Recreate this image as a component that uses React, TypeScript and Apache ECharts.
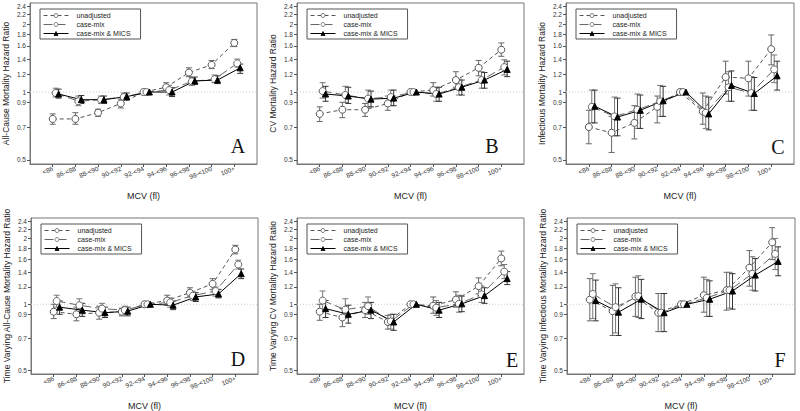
import React, { useEffect, useRef } from "react";
import * as echarts from "echarts";

const categories = ["<86", "86-<88", "88-<90", "90-<92", "92-<94", "94-<96", "96-<98", "98-<100", "100+"];
const yTicks = [0.5, 0.7, 0.9, 1, 1.2, 1.4, 1.6, 1.8, 2, 2.2, 2.4];
const seriesNames = ["unadjusted", "case-mix", "case-mix & MICS"];
const panelLetters = ["A", "B", "C", "D", "E", "F"];
const yTitles = [
  "All-Cause Mortality Hazard Ratio",
  "CV Mortality Hazard Ratio",
  "Infectious Mortality Hazard Ratio",
  "Time Varying All-Cause Mortality Hazard Ratio",
  "Time Varying CV Mortality Hazard Ratio",
  "Time Varying Infectious Mortality Hazard Ratio",
];

// [estimate, lower CI, upper CI]
const A_unadjusted = [[0.76, 0.72, 0.8], [0.76, 0.72, 0.81], [0.81, 0.78, 0.84], [0.89, 0.85, 0.93], [1, null, null], [1.05, 1.02, 1.1], [1.22, 1.17, 1.28], [1.32, 1.27, 1.38], [1.65, 1.59, 1.71]];
const A_casemix = [[0.99, 0.95, 1.04], [0.91, 0.87, 0.96], [0.925, 0.89, 0.96], [0.95, 0.92, 0.99], [1, null, null], [1.02, 0.97, 1.07], [1.115, 1.07, 1.16], [1.14, 1.1, 1.19], [1.34, 1.29, 1.4]];
const A_mics = [[0.98, 0.94, 1.03], [0.925, 0.89, 0.965], [0.925, 0.89, 0.96], [0.955, 0.92, 0.99], [1, null, null], [1.0, 0.955, 1.045], [1.12, 1.08, 1.165], [1.13, 1.09, 1.18], [1.28, 1.21, 1.33]];

const B_unadjusted = [[0.8, 0.74, 0.86], [0.835, 0.77, 0.9], [0.835, 0.78, 0.89], [0.89, 0.83, 0.96], [1, null, null], [1.02, 0.96, 1.1], [1.13, 1.05, 1.23], [1.28, 1.18, 1.38], [1.54, 1.44, 1.65]];
const B_casemix = [[1.01, 0.94, 1.1], [0.97, 0.9, 1.06], [0.935, 0.86, 1.02], [0.95, 0.87, 1.02], [1, null, null], [0.98, 0.91, 1.05], [1.05, 0.97, 1.14], [1.13, 1.04, 1.23], [1.29, 1.19, 1.39]];
const B_mics = [[0.98, 0.91, 1.06], [0.96, 0.89, 1.05], [0.93, 0.86, 1.01], [0.94, 0.87, 1.02], [1, null, null], [0.98, 0.91, 1.05], [1.05, 0.97, 1.13], [1.13, 1.04, 1.22], [1.26, 1.17, 1.37]];

const C_unadjusted = [[0.7, 0.59, 0.83], [0.66, 0.54, 0.78], [0.73, 0.62, 0.87], [0.86, 0.73, 0.96], [1, null, null], [0.82, 0.72, 0.99], [1.165, 0.98, 1.37], [1.15, 0.96, 1.37], [1.55, 1.32, 1.79]];
const C_casemix = [[0.86, 0.73, 1.02], [0.78, 0.64, 0.95], [0.835, 0.69, 0.98], [0.91, 0.78, 1.07], [1, null, null], [0.81, 0.69, 0.96], [1.05, 0.91, 1.23], [0.99, 0.83, 1.17], [1.26, 1.1, 1.46]];
const C_mics = [[0.865, 0.73, 1.02], [0.775, 0.64, 0.94], [0.83, 0.69, 0.97], [0.915, 0.78, 1.06], [1, null, null], [0.8, 0.68, 0.95], [1.07, 0.91, 1.24], [0.985, 0.83, 1.16], [1.18, 1.02, 1.37]];

const D_unadjusted = [[0.925, 0.86, 1.0], [0.9, 0.84, 0.97], [0.915, 0.855, 0.98], [0.925, 0.885, 0.96], [1, null, null], [1.04, 0.99, 1.1], [1.13, 1.08, 1.19], [1.24, 1.17, 1.31], [1.78, 1.7, 1.86]];
const D_casemix = [[1.035, 0.97, 1.1], [0.99, 0.925, 1.06], [0.955, 0.9, 1.01], [0.94, 0.9, 0.98], [1, null, null], [1.02, 0.97, 1.07], [1.095, 1.04, 1.14], [1.15, 1.09, 1.2], [1.52, 1.45, 1.59]];
const D_mics = [[0.97, 0.9, 1.035], [0.94, 0.88, 1.01], [0.915, 0.87, 0.97], [0.93, 0.885, 0.97], [1, null, null], [0.99, 0.945, 1.035], [1.08, 1.03, 1.13], [1.115, 1.07, 1.17], [1.38, 1.31, 1.45]];

const E_unadjusted = [[0.925, 0.845, 1.0], [0.87, 0.79, 0.955], [0.94, 0.87, 1.02], [0.83, 0.77, 0.89], [1, null, null], [0.985, 0.91, 1.08], [1.05, 0.97, 1.14], [1.21, 1.115, 1.32], [1.62, 1.5, 1.75]];
const E_casemix = [[1.04, 0.94, 1.15], [0.945, 0.865, 1.06], [0.98, 0.9, 1.08], [0.835, 0.77, 0.9], [1, null, null], [0.965, 0.89, 1.04], [1.005, 0.92, 1.1], [1.11, 1.02, 1.21], [1.41, 1.31, 1.52]];
const E_mics = [[0.955, 0.87, 1.04], [0.9, 0.82, 0.99], [0.94, 0.86, 1.02], [0.83, 0.76, 0.9], [1, null, null], [0.94, 0.87, 1.02], [1.005, 0.925, 1.09], [1.095, 1.01, 1.19], [1.31, 1.23, 1.41]];

const F_unadjusted = [[1.05, 0.84, 1.31], [0.93, 0.72, 1.22], [1.085, 0.88, 1.33], [0.915, 0.75, 1.12], [1, null, null], [1.1, 0.92, 1.33], [1.16, 0.94, 1.4], [1.47, 1.21, 1.76], [1.92, 1.6, 2.24]];
const F_casemix = [[1.115, 0.86, 1.38], [0.97, 0.74, 1.24], [1.09, 0.87, 1.35], [0.915, 0.75, 1.12], [1, null, null], [1.07, 0.88, 1.3], [1.16, 0.96, 1.4], [1.38, 1.16, 1.65], [1.7, 1.44, 2.0]];
const F_mics = [[1.04, 0.84, 1.29], [0.92, 0.72, 1.19], [1.055, 0.86, 1.3], [0.915, 0.75, 1.12], [1, null, null], [1.055, 0.88, 1.28], [1.15, 0.95, 1.38], [1.36, 1.15, 1.62], [1.57, 1.35, 1.83]];

const referenceLine = [1, 1];

const panelData = [
  [A_unadjusted, A_casemix, A_mics],
  [B_unadjusted, B_casemix, B_mics],
  [C_unadjusted, C_casemix, C_mics],
  [D_unadjusted, D_casemix, D_mics],
  [E_unadjusted, E_casemix, E_mics],
  [F_unadjusted, F_casemix, F_mics],
];

const L = (v: number) => Math.log10(v);
const FONT = "'Liberation Sans', Arial, sans-serif";

const gridsPos = [
  { left: 30, top: 3, width: 227, height: 161 },
  { left: 297, top: 3, width: 227, height: 161 },
  { left: 566, top: 3, width: 228, height: 161 },
  { left: 31, top: 218, width: 227, height: 160 },
  { left: 297, top: 218, width: 227, height: 160 },
  { left: 567, top: 218, width: 228, height: 160 },
];
const letterPos = [
  [238, 146], [492, 146], [778, 147], [238, 359], [512, 360], [780, 360],
];

const offsets = [0, 0.13, 0.26];
const lineColors = ["#555", "#666", "#000"];
const lineTypes: any[] = [[4, 3], [9, 4], "solid"];
const errColors = ["#666", "#777", "#333"];

export default function App() {
  const ref = useRef<HTMLDivElement>(null);
  useEffect(() => {
    if (!ref.current) return;
    const chart = echarts.init(ref.current, undefined, { renderer: "svg" });
    const grid: any[] = [];
    const xAxis: any[] = [];
    const yAxis: any[] = [];
    const legend: any[] = [];
    const series: any[] = [];
    const graphic: any[] = [];

    gridsPos.forEach((g, i) => {
      grid.push({ ...g, show: true, borderColor: "#777", borderWidth: 1, backgroundColor: "transparent" });
      xAxis.push({
        type: "value",
        gridIndex: i,
        min: 0,
        max: 10,
        splitLine: { show: false },
        axisLine: { show: true, onZero: false, lineStyle: { color: "#777" } },
        axisTick: { show: true, customValues: [1, 2, 3, 4, 5, 6, 7, 8, 9], length: 3, lineStyle: { color: "#555" } },
        axisLabel: {
          customValues: [1, 2, 3, 4, 5, 6, 7, 8, 9],
          formatter: (v: number) => categories[Math.round(v) - 1] ?? "",
          rotate: 22,
          fontSize: 6.5,
          color: "#333",
          fontFamily: FONT,
          margin: 4,
        },
        name: "MCV (fl)",
        nameLocation: "middle",
        nameGap: 27,
        nameTextStyle: { fontSize: 9, color: "#222", fontFamily: FONT },
      });
      yAxis.push({
        type: "value",
        gridIndex: i,
        min: L(0.48),
        max: L(2.48),
        splitLine: { show: false },
        axisLine: { show: true, onZero: false, lineStyle: { color: "#777" } },
        axisTick: { show: true, customValues: yTicks.map(L), length: 3, lineStyle: { color: "#555" } },
        axisLabel: {
          customValues: yTicks.map(L),
          formatter: (v: number) => String(parseFloat(Math.pow(10, v).toFixed(1))),
          fontSize: 6.5,
          color: "#333",
          fontFamily: FONT,
          margin: 4,
        },
        name: yTitles[i],
        nameLocation: "middle",
        nameGap: 20,
        nameTextStyle: { fontSize: 8.5, color: "#222", fontFamily: FONT },
      });
      legend.push({
        data: seriesNames,
        orient: "vertical",
        left: g.left + 10,
        top: g.top + 6,
        itemWidth: 25,
        itemHeight: 5,
        itemGap: 2,
        padding: [3, 10, 2, 3],
        borderColor: "#555",
        borderWidth: 1,
        lineStyle: { width: 1 },
        itemStyle: { borderWidth: 0.8 },
        textStyle: { fontSize: 7, color: "#222", fontFamily: FONT, lineHeight: 6, padding: [0, 0, 0, 3] },
      });
      graphic.push({
        type: "text",
        x: letterPos[i][0],
        y: letterPos[i][1],
        style: {
          text: panelLetters[i],
          font: "20px 'Liberation Serif', 'Times New Roman', serif",
          fill: "#111",
          textAlign: "center",
          textVerticalAlign: "middle",
        },
      });

      // dotted reference line at HR = 1
      series.push({
        type: "line",
        xAxisIndex: i,
        yAxisIndex: i,
        z: 0,
        silent: true,
        symbol: "none",
        data: [[0, L(referenceLine[0])], [10, L(referenceLine[1])]],
        lineStyle: { color: "#cfcfcf", width: 1, type: [1, 2] },
      });

      panelData[i].forEach((arr: any[], s: number) => {
        series.push({
          type: "custom",
          xAxisIndex: i,
          yAxisIndex: i,
          z: 1,
          silent: true,
          data: arr
            .map((d, k) => (d[1] == null ? null : [k + 1 + offsets[s], L(d[1]), L(d[2])]))
            .filter((d) => d !== null),
          encode: { x: 0, y: [1, 2] },
          renderItem: (params: any, api: any) => {
            const x = api.value(0);
            const lo = api.coord([x, api.value(1)]);
            const hi = api.coord([x, api.value(2)]);
            const c = 3;
            const st = { stroke: errColors[s], lineWidth: 1 };
            return {
              type: "group",
              children: [
                { type: "line", shape: { x1: lo[0], y1: lo[1], x2: hi[0], y2: hi[1] }, style: st },
                { type: "line", shape: { x1: lo[0] - c, y1: lo[1], x2: lo[0] + c, y2: lo[1] }, style: st },
                { type: "line", shape: { x1: hi[0] - c, y1: hi[1], x2: hi[0] + c, y2: hi[1] }, style: st },
              ],
            };
          },
        });
      });

      panelData[i].forEach((arr: any[], s: number) => {
        const isMics = s === 2;
        series.push({
          type: "line",
          name: seriesNames[s],
          xAxisIndex: i,
          yAxisIndex: i,
          z: 3,
          data: arr.map((d, k) => [k + 1 + offsets[s], L(d[0])]),
          symbol: isMics ? "triangle" : "circle",
          symbolSize: isMics ? 6 : 7,
          showSymbol: true,
          lineStyle: { color: lineColors[s], width: 1, type: lineTypes[s] },
          itemStyle: isMics
            ? { color: "#000", borderColor: "#000", borderWidth: 1 }
            : { color: "#fff", borderColor: lineColors[s], borderWidth: 1 },
        });
      });
    });

    chart.setOption({
      animation: false,
      backgroundColor: "#fff",
      textStyle: { fontFamily: FONT },
      grid,
      xAxis,
      yAxis,
      legend,
      series,
      graphic,
    });
    return () => chart.dispose();
  }, []);
  return (
    <div
      ref={ref}
      style={{ position: "fixed", left: 0, top: 0, width: 800, height: 411, background: "#fff" }}
    />
  );
}
